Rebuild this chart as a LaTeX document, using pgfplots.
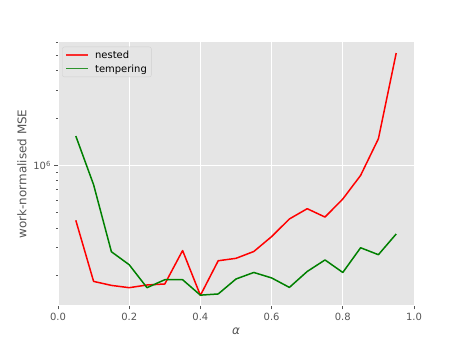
\documentclass[border=0pt]{standalone}
\usepackage{pgfplots}
\pgfplotsset{compat=1.18}
\usepackage{fontspec}
\setmainfont{DejaVu Sans}
\definecolor{bggray}{HTML}{E5E5E5}
\definecolor{tickgray}{HTML}{555555}
\definecolor{mplgreen}{rgb}{0,0.5,0}
\definecolor{legedge}{HTML}{CCCCCC}
\begin{document}
\begin{tikzpicture}
\path[use as bounding box] (0,0) rectangle (461bp,346bp);
\begin{axis}[
  at={(58bp,40bp)}, anchor=south west,
  scale only axis, width=356bp, height=264bp,
  xmin=0, xmax=1, ymode=log, ymin=1.28e5, ymax=6.08e6,
  axis background/.style={fill=bggray},
  axis line style={draw=white, line width=1bp},
  xtick={0,0.2,0.4,0.6,0.8,1}, xticklabels={0.0,0.2,0.4,0.6,0.8,1.0},
  ytick={1e6}, yticklabels={10\textsuperscript{6}},
  minor ytick={2e5,3e5,4e5,5e5,6e5,7e5,8e5,9e5,2e6,3e6,4e6,5e6,6e6},
  tick align=outside, xtick pos=bottom, ytick pos=left,
  major tick length=3.5bp, minor tick length=2bp,
  every tick/.style={tickgray, line width=0.8bp},
  xmajorgrids, ymajorgrids, major grid style={white, line width=0.8bp},
  ticklabel style={font=\fontsize{10}{12}\selectfont, text=tickgray},
  xlabel={\itshape α}, ylabel={work-normalised MSE},
  label style={font=\fontsize{12}{14}\selectfont, text=tickgray},
  xlabel style={at={(axis description cs:0.5,-0.0947)}, anchor=center},
  ylabel style={at={(axis description cs:-0.1011,0.5)}, anchor=center},
  legend cell align=left,
  legend style={at={(axis description cs:0.012,0.982)}, anchor=north west,
    draw=legedge, fill=bggray, fill opacity=0.8, draw opacity=0.8, text opacity=1,
    rounded corners=2bp, font=\fontsize{10}{12}\selectfont,
    inner xsep=3bp, inner ysep=1.5bp,
    nodes={inner sep=1.5bp}},
  legend image code/.code={\draw[#1] (0bp,0bp) -- (21.7bp,0bp);},
]
\addplot[red, line width=1.5bp, line join=round] coordinates {
(0.05,4.48e5) (0.10,1.834e5) (0.15,1.73e5) (0.20,1.673e5) (0.25,1.74e5)
(0.30,1.766e5) (0.35,2.88e5) (0.40,1.495e5) (0.45,2.48e5) (0.50,2.57e5)
(0.55,2.84e5) (0.60,3.53e5) (0.65,4.57e5) (0.70,5.31e5) (0.75,4.70e5)
(0.80,6.12e5) (0.85,8.64e5) (0.90,1.477e6) (0.95,5.17e6)};
\addlegendentry{\hspace*{5bp}\rule[-3bp]{0pt}{12bp}nested}
\addplot[mplgreen, line width=1.5bp, line join=round] coordinates {
(0.05,1.537e6) (0.10,7.54e5) (0.15,2.83e5) (0.20,2.34e5) (0.25,1.673e5)
(0.30,1.88e5) (0.35,1.88e5) (0.40,1.50e5) (0.45,1.526e5) (0.50,1.90e5)
(0.55,2.09e5) (0.60,1.93e5) (0.65,1.68e5) (0.70,2.12e5) (0.75,2.51e5)
(0.80,2.09e5) (0.85,3.00e5) (0.90,2.71e5) (0.95,3.67e5)};
\addlegendentry{\hspace*{5bp}\rule[-3bp]{0pt}{12bp}tempering}
\end{axis}
\end{tikzpicture}
\end{document}
